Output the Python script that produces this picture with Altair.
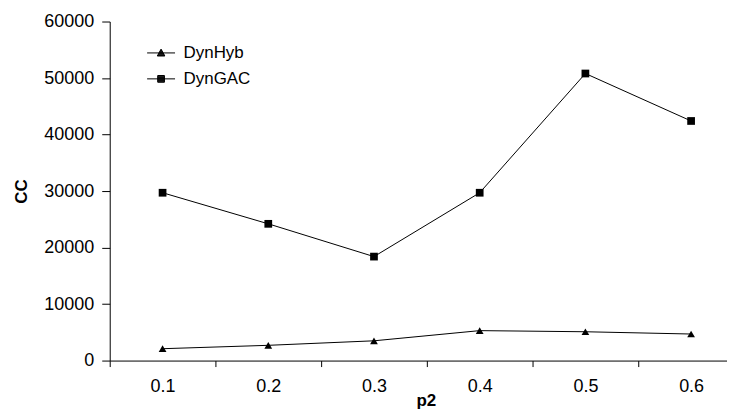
import altair as alt
import pandas as pd

p2 = [0.1, 0.2, 0.3, 0.4, 0.5, 0.6]
dynhyb = [2100, 2700, 3500, 5300, 5100, 4700]
dyngac = [29700, 24200, 18400, 29700, 50800, 42400]
series = ["DynHyb", "DynGAC"]
y_ticks = [0, 10000, 20000, 30000, 40000, 50000, 60000]
x_ticks = [0.05, 0.15, 0.25, 0.35, 0.45, 0.55]  # category boundaries

rows = []
for name, vals in zip(series, [dynhyb, dyngac]):
    for p, v in zip(p2, vals):
        rows.append({"p2": p, "CC": v, "series": name})
df = pd.DataFrame(rows)

FONT = "Liberation Sans"
W = 619
X_MAX = 0.05 + W / 1060.0


def f(v):
    return f"{v:.3f}"


# legend symbols: a horizontal line with a solid marker, drawn as stroked hatching
def tri_path():
    top, bot, hw = -0.27, 0.22, 0.27
    p = "M-1,0L1,0"
    p += f"M{f(-hw)},{f(bot)}L0,{f(top)}L{f(hw)},{f(bot)}Z"
    yv = top + 0.05
    while yv <= bot + 1e-9:
        w = hw * (yv - top) / (bot - top)
        p += f"M{f(-w)},{f(yv)}L{f(w)},{f(yv)}"
        yv += 0.05
    return p


def sq_path():
    h = 0.24
    p = "M-1,0L1,0"
    p += f"M{f(-h)},{f(-h)}L{f(h)},{f(-h)}L{f(h)},{f(h)}L{f(-h)},{f(h)}Z"
    yv = -h + 0.05
    while yv < h:
        p += f"M{f(-h)},{f(yv)}L{f(h)},{f(yv)}"
        yv += 0.05
    return p


x = alt.X(
    "p2:Q",
    scale=alt.Scale(domain=[0.05, X_MAX], nice=False, zero=False),
    axis=alt.Axis(title="p2", values=x_ticks, grid=False, tickSize=6,
                  labelExpr="format(datum.value + 0.05, '.1f')", labelOffset=53,
                  labelPadding=11, titlePadding=10, titleBaseline="alphabetic",
                  titleX=317, labelFlush=False, labelOverlap=False),
)
y = alt.Y(
    "CC:Q",
    scale=alt.Scale(domain=[0, 60000]),
    axis=alt.Axis(title="CC", values=y_ticks, grid=False, tickSize=8,
                  labelPadding=8, titlePadding=13, format="d"),
)

line = alt.Chart(df).mark_line(color="black", strokeWidth=1).encode(
    x=x, y=y, detail="series:N"
)

points = alt.Chart(df).mark_point(filled=True, color="black", opacity=1, size=60).encode(
    x=x, y=y,
    shape=alt.Shape("series:N", scale=alt.Scale(domain=series, range=["triangle-up", "square"]),
                    legend=None),
)

legend_layer = alt.Chart(df).mark_point(filled=False, color="black", strokeWidth=1,
                                        opacity=0).encode(
    x=x, y=y,
    shape=alt.Shape(
        "series:N",
        scale=alt.Scale(domain=series, range=[tri_path(), sq_path()]),
        legend=alt.Legend(title=None, orient="none", legendX=37, legendY=17,
                          symbolSize=784, symbolOpacity=1,
                          symbolStrokeColor="black", symbolStrokeWidth=1,
                          labelFontSize=17, labelFont=FONT, labelColor="black",
                          labelOffset=8, rowPadding=3),
    ),
)

chart = (
    alt.layer(line, points, legend_layer)
    .resolve_scale(shape="independent")
    .properties(width=W, height=340, padding={"left": 4, "top": 4, "right": 0, "bottom": 0})
    .configure_view(stroke=None)
    .configure_axis(labelFont=FONT, labelFontSize=18, labelColor="black",
                    titleFont=FONT, titleFontSize=17, titleFontWeight="bold",
                    titleColor="black", domainColor="black", tickColor="black")
)

chart.save("out.html", embed_options={"renderer": "svg", "actions": False})
